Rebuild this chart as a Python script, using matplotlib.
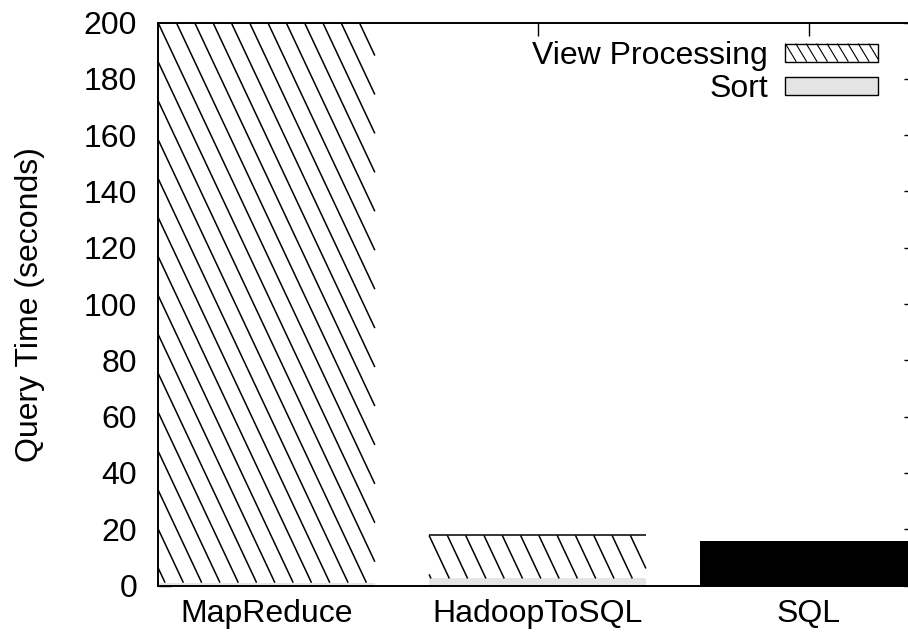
import matplotlib
matplotlib.use('Agg')
import matplotlib.pyplot as plt
import numpy as np
from matplotlib.collections import LineCollection
from matplotlib.legend_handler import HandlerBase
from matplotlib.patches import Rectangle, Patch

plt.rcParams['font.family'] = ['Liberation Sans', 'DejaVu Sans']

categories = ['MapReduce', 'HadoopToSQL', 'SQL']
sort_time = [1.0, 2.5, 0.0]
view_time = [250.0, 15.3, 0.0]
sql_time = [0.0, 0.0, 15.7]
yticks = list(range(0, 201, 20))

FS = 23
BAR_W = 0.8


def hatch_segments(x0, x1, y0, y1, step, slope):
    # "\" lines: x grows by `slope` for every unit the line drops
    segs = []
    h = y1 - y0
    first = x0 - np.ceil(slope * h / step) * step
    for xs in np.arange(first, x1 + step, step):
        ylo = max(y0, y1 - (x1 - xs) / slope)
        yhi = min(y1, y1 - (x0 - xs) / slope)
        if yhi > ylo:
            segs.append([(xs + slope * (y1 - yhi), yhi), (xs + slope * (y1 - ylo), ylo)])
    return segs


class HatchHandler(HandlerBase):
    def create_artists(self, legend, orig_handle, xdescent, ydescent,
                       width, height, fontsize, trans):
        x0, y0 = -xdescent, -ydescent
        box = Rectangle((x0, y0), width, height, facecolor='white',
                        edgecolor='black', linewidth=1.0, transform=trans)
        lines = LineCollection(hatch_segments(x0, x0 + width, y0, y0 + height, 7.5, 0.6),
                               colors='black', linewidths=0.8, transform=trans)
        return [box, lines]


fig = plt.figure(figsize=(9.08, 6.35), dpi=100)
W, H = 908, 635
ax = fig.add_axes([158 / W, 1 - 585.5 / H, (917 - 158) / W, (585.5 - 22.5) / H])
ax.set_xlim(-0.4, 2.4)
ax.set_ylim(0, 200)
ax.set_axisbelow(True)

x = np.arange(len(categories))
ax.bar(x, sort_time, BAR_W, color='#e5e5e5', linewidth=0, zorder=2)
view_bars = ax.bar(x, view_time, BAR_W, bottom=sort_time, color='white',
                   linewidth=0, zorder=2)
ax.bar(x, sql_time, BAR_W, color='black', linewidth=0, zorder=2)

# hatch drawn in pixel space so the stroke angle stays fixed
to_px = ax.transData
to_data = ax.transData.inverted()
for bar in view_bars:
    if bar.get_height() <= 0:
        continue
    bx0, by0 = bar.get_x(), bar.get_y()
    bx1, by1 = bx0 + bar.get_width(), min(by0 + bar.get_height(), 200)
    (px0, py0), (px1, py1) = to_px.transform([(bx0, by0), (bx1, by1)])
    segs = [to_data.transform(s) for s in hatch_segments(px0, px1, py0, py1, 18.3, 0.47)]
    ax.add_collection(LineCollection(segs, colors='black', linewidths=1.1, zorder=2.1))
    ax.hlines(by0 + bar.get_height(), bx0, bx1, colors='black', linewidth=1.1, zorder=2.2)

ax.set_xticks(x)
ax.set_xticklabels(categories, fontsize=FS)
ax.set_yticks(yticks)
ax.set_yticklabels([str(v) for v in yticks], fontsize=FS)
ax.tick_params(direction='in', length=9.5, width=1.0, top=True, right=True)
ax.tick_params(axis='y', pad=15)
ax.tick_params(axis='x', pad=10)
for s in ax.spines.values():
    s.set_linewidth(1.4)

fig.text(30 / W, 1 - 305 / H, 'Query Time (seconds)', rotation=90,
         ha='center', va='center', fontsize=FS)

handles = [Patch(facecolor='white', edgecolor='black'),
           Patch(facecolor='#e5e5e5', edgecolor='black', linewidth=1.0)]
ax.legend(handles, ['View Processing', 'Sort'], loc='upper right',
          bbox_to_anchor=(878 / W, 1 - 41 / H), bbox_transform=fig.transFigure,
          frameon=False, fontsize=FS, markerfirst=False, borderpad=0,
          borderaxespad=0, handlelength=2.9, handleheight=0.5,
          handletextpad=0.55, labelspacing=0.1,
          handler_map={handles[0]: HatchHandler()})

fig.savefig('out.png', dpi=100)
